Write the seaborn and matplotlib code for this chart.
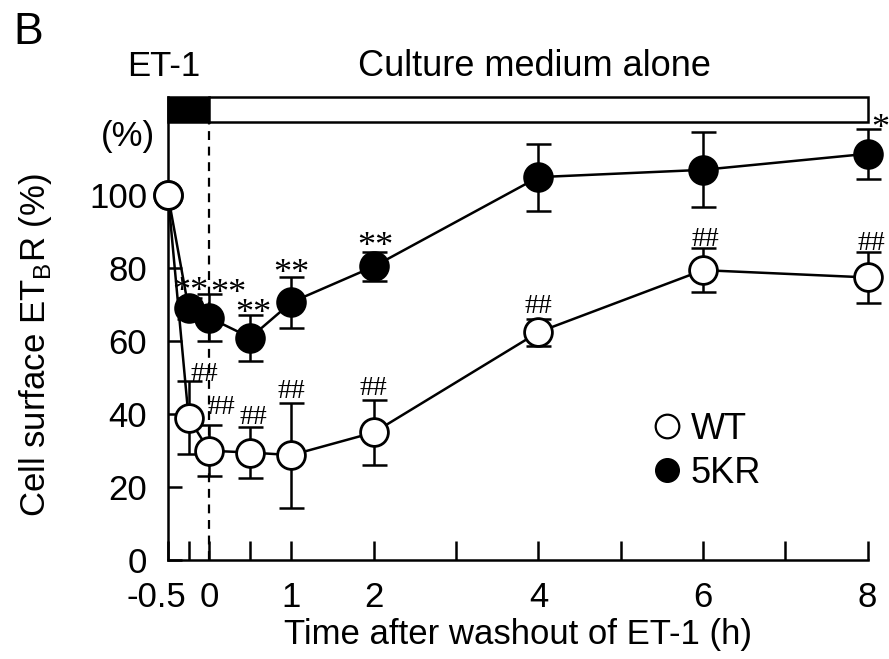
import numpy as np
import pandas as pd
import matplotlib
matplotlib.use("Agg")
import matplotlib.pyplot as plt
import matplotlib.patches as patches
import matplotlib.transforms as mtransforms
from matplotlib.lines import Line2D
import seaborn as sns

# values
time = [-0.5, -0.25, 0, 0.5, 1, 2, 4, 6, 8]
wt_mean = [100, 39, 30, 29.5, 28.8, 35, 62.5, 79.5, 77.5]
wt_sd = [0, 10, 7, 7, 14.4, 9, 3.7, 6, 7]
kr_mean = [100, 69, 66.5, 61, 70.7, 80.5, 105, 107, 111.4]
kr_sd = [0, 3, 6.5, 6.3, 7, 4, 9.2, 10.3, 6.8]
wt_marks = ["", "##", "##", "##", "##", "##", "##", "##", "##"]
kr_marks = ["", "**", "**", "**", "**", "**", "", "", "*"]
xticks = [-0.5, 0, 1, 2, 4, 6, 8]
xticks_minor = [-0.25, 0.5, 3, 5, 7]
yticks = [0, 20, 40, 60, 80, 100]

sns.set_style("ticks")
plt.rcParams['font.family'] = ['Liberation Sans', 'DejaVu Sans']
plt.rcParams['axes.unicode_minus'] = False
plt.rcParams['mathtext.fontset'] = 'custom'
plt.rcParams['mathtext.rm'] = 'Liberation Sans'
for k in ['text.color', 'axes.labelcolor', 'xtick.color', 'ytick.color', 'axes.edgecolor']:
    plt.rcParams[k] = 'black'

df = pd.DataFrame({
    "time": time * 2,
    "value": kr_mean + wt_mean,
    "sd": kr_sd + wt_sd,
    "group": ["5KR"] * len(time) + ["WT"] * len(time),
})

fig = plt.figure(figsize=(8.89, 6.59), dpi=100)
ax = fig.add_axes([0.189, 0.150, 0.787, 0.703])

lw = 1.8
fs = 25
for grp, face, z in [("5KR", "black", 3), ("WT", "white", 5)]:
    d = df[df.group == grp]
    eb = ax.errorbar(d.time, d.value, yerr=d.sd, fmt="none", ecolor="black",
                     elinewidth=lw, capsize=9, capthick=lw, zorder=z)
    for part in eb.lines[1] + eb.lines[2]:
        part.set_clip_on(False)
    sns.lineplot(data=d, x="time", y="value", color="black", lw=lw,
                 marker="o", markersize=20, markerfacecolor=face,
                 markeredgecolor="black", markeredgewidth=2,
                 ax=ax, zorder=z + 1, legend=False, clip_on=False)

# significance marks
serif = ['Liberation Serif', 'DejaVu Serif']
kr_dx = [0, 1, 14, 2, 0, 1, 0, 0, 9]
kr_dy = [0, -8, -12, -12, -10, -9, 0, 0, -12]
wt_dx = [0, 11, 9, 2, 0, 0, 0, 2, 3]
wt_dy = [0, -4, 4, -2, -1, -1, 0, -3, -3]
for i, t in enumerate(time):
    if kr_marks[i]:
        ax.annotate(kr_marks[i], (t, kr_mean[i] + kr_sd[i]),
                    xytext=(kr_dx[i], kr_dy[i]), textcoords="offset points",
                    ha="center", va="bottom", fontsize=26, family=serif, zorder=8,
                    annotation_clip=False)
    if wt_marks[i]:
        ax.annotate(wt_marks[i], (t, wt_mean[i] + wt_sd[i]),
                    xytext=(wt_dx[i], wt_dy[i]), textcoords="offset points",
                    ha="center", va="bottom", fontsize=20, family=serif, zorder=8,
                    annotation_clip=False)

# treatment bar
ax.add_patch(patches.Rectangle((-0.5, 120), 0.5, 7, facecolor="black",
                               edgecolor="black", lw=lw, clip_on=False, zorder=6))
ax.add_patch(patches.Rectangle((0, 120), 8, 7, facecolor="white",
                               edgecolor="black", lw=lw, clip_on=False, zorder=6))
ax.plot([0, 0], [0, 120], ls=(0, (4, 3)), color="black", lw=1.6, zorder=2)

fig.text(164 / 889, 1 - 66 / 659, "ET-1", ha="center", va="center", fontsize=fs)
fig.text(534 / 889, 1 - 66 / 659, "Culture medium alone", ha="center", va="center",
         fontsize=26)
fig.text(28 / 889, 1 - 33 / 659, "B", fontsize=32, ha="center", va="center")
ax.text(-0.66, 116, "(%)", ha="right", va="center", fontsize=fs)

ax.set_xlim(-0.5, 8)
ax.set_ylim(0, 127)
ax.set_xticks(xticks)
ax.set_xticklabels([str(v) for v in xticks])
ax.set_xticks(xticks_minor, minor=True)
ax.set_yticks(yticks)
for s in ["top", "right"]:
    ax.spines[s].set_visible(False)
for s in ["left", "bottom"]:
    ax.spines[s].set_linewidth(lw)
ax.tick_params(axis="x", which="both", direction="in", length=14, width=lw,
               labelsize=fs, pad=15)
ax.tick_params(axis="y", direction="in", length=10, width=lw,
               labelsize=fs, pad=15)
# nudge the -0.5 label left so it clears the 0 label
first = ax.get_xticklabels()[0]
first.set_transform(first.get_transform() +
                    mtransforms.ScaledTranslation(-12 / 100, 0, fig.dpi_scale_trans))
ax.set_xlabel("Time after washout of ET-1 (h)", fontsize=fs, labelpad=3)
ax.set_ylabel("Cell surface ET$_\\mathregular{B}$R (%)", fontsize=fs)
ax.yaxis.set_label_coords(-0.163, 0.464)

handles = [
    Line2D([], [], marker="o", ls="none", markersize=17, markerfacecolor="white",
           markeredgecolor="black", markeredgewidth=1.6),
    Line2D([], [], marker="o", ls="none", markersize=17, markerfacecolor="black",
           markeredgecolor="black"),
]
ax.legend(handles, ["WT", "5KR"], loc="center left", bbox_to_anchor=(0.67, 0.235),
          frameon=False, fontsize=26, handlelength=0.9, handletextpad=0.2,
          labelspacing=0.25, borderaxespad=0)

fig.savefig("out.png", dpi=100)
